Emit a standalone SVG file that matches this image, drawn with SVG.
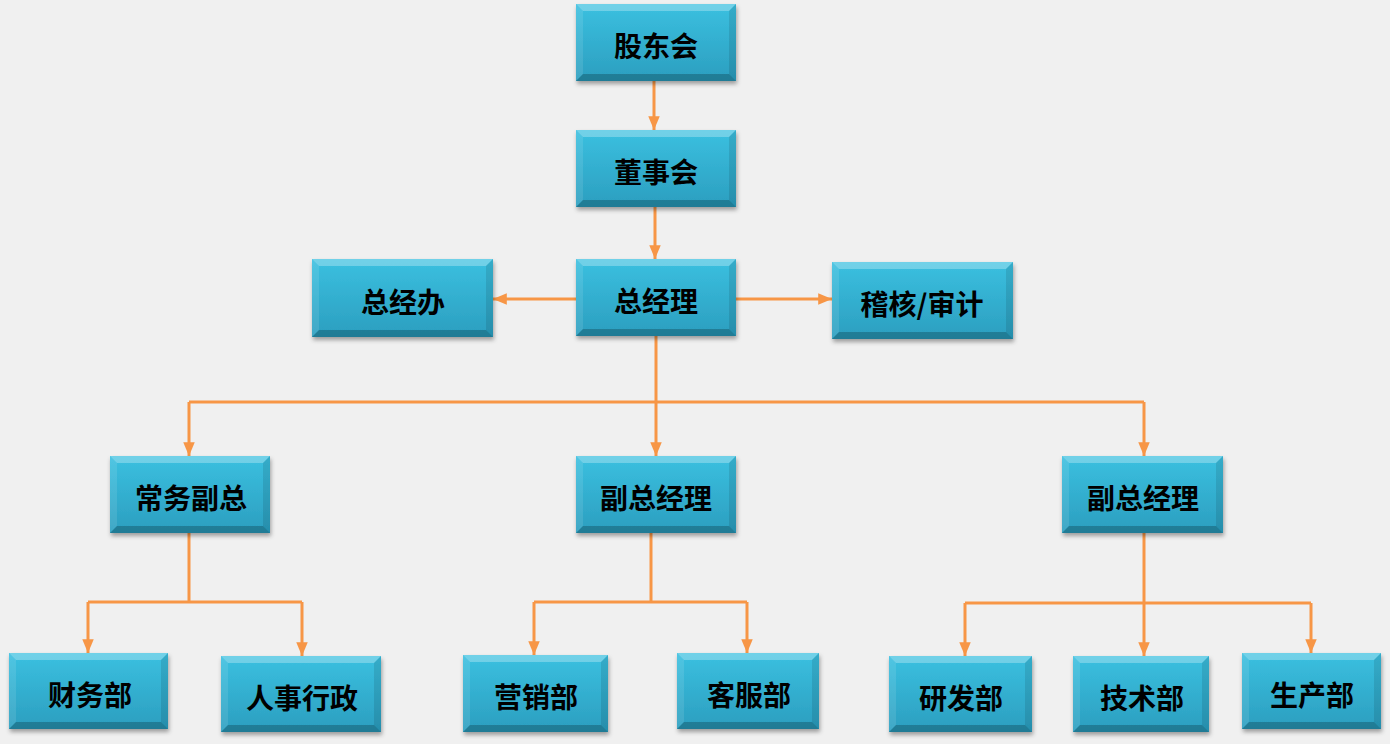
<svg xmlns="http://www.w3.org/2000/svg" width="1390" height="744" viewBox="0 0 1390 744">
<style>
.face{fill:url(#g);filter:url(#sh)}
.bt{fill:#ffffff;opacity:.28}
.bl{fill:#ffffff;opacity:.1}
.br{fill:#000000;opacity:.1}
.bb{fill:#000000;opacity:.22}
.t{font-family:"Noto Sans CJK SC","Noto Sans CJK TC",sans-serif;font-weight:700;font-size:28px;fill:#000;text-anchor:middle}
.c{fill:none;stroke:#F79646;stroke-width:3}
</style>
<defs>
<linearGradient id="g" x1="0" y1="0" x2="0" y2="1">
<stop offset="0" stop-color="#3BC0E0"/>
<stop offset="1" stop-color="#2B9EBF"/>
</linearGradient>
<filter id="sh" x="-10%" y="-10%" width="125%" height="135%">
<feDropShadow dx="1" dy="3" stdDeviation="2" flood-color="#000" flood-opacity=".35"/>
</filter>
<marker id="a" viewBox="0 0 12 10" refX="12" refY="5" markerWidth="4.6" markerHeight="4" orient="auto" markerUnits="strokeWidth">
<path d="M0,0 L12,5 L0,10 Z" fill="#F79646"/>
</marker>
</defs>
<rect width="1390" height="744" fill="#F0F0F0"/>
<g id="connectors">
<path class="c" d="M654,81 V130" marker-end="url(#a)"/>
<path class="c" d="M655,207 V259" marker-end="url(#a)"/>
<path class="c" d="M576,299 H493" marker-end="url(#a)"/>
<path class="c" d="M736,299 H832" marker-end="url(#a)"/>
<path class="c" d="M656,336 V456" marker-end="url(#a)"/>
<path class="c" d="M189,402 H1144"/>
<path class="c" d="M189,402 V456" marker-end="url(#a)"/>
<path class="c" d="M1144,402 V456" marker-end="url(#a)"/>
<path class="c" d="M189,533 V602 M88,602 H302"/>
<path class="c" d="M88,602 V653" marker-end="url(#a)"/>
<path class="c" d="M302,602 V656" marker-end="url(#a)"/>
<path class="c" d="M651,533 V602 M534,602 H747"/>
<path class="c" d="M534,602 V655" marker-end="url(#a)"/>
<path class="c" d="M747,602 V653" marker-end="url(#a)"/>
<path class="c" d="M1144,533 V603 M965,603 H1311"/>
<path class="c" d="M965,603 V656" marker-end="url(#a)"/>
<path class="c" d="M1144,603 V656" marker-end="url(#a)"/>
<path class="c" d="M1311,603 V653" marker-end="url(#a)"/>
</g>
<g id="n1"><rect class="face" x="576" y="4" width="160" height="77"/><polygon class="bt" points="576,4 736,4 729,11 583,11"/><polygon class="bl" points="576,4 583,11 583,74 576,81"/><polygon class="br" points="736,4 736,81 729,74 729,11"/><polygon class="bb" points="576,81 583,74 729,74 736,81"/><text class="t" x="656" y="57">股东会</text></g>
<g id="n2"><rect class="face" x="576" y="130" width="160" height="77"/><polygon class="bt" points="576,130 736,130 729,137 583,137"/><polygon class="bl" points="576,130 583,137 583,200 576,207"/><polygon class="br" points="736,130 736,207 729,200 729,137"/><polygon class="bb" points="576,207 583,200 729,200 736,207"/><text class="t" x="656" y="183">董事会</text></g>
<g id="n3"><rect class="face" x="576" y="259" width="160" height="77"/><polygon class="bt" points="576,259 736,259 729,266 583,266"/><polygon class="bl" points="576,259 583,266 583,329 576,336"/><polygon class="br" points="736,259 736,336 729,329 729,266"/><polygon class="bb" points="576,336 583,329 729,329 736,336"/><text class="t" x="656" y="312">总经理</text></g>
<g id="n4"><rect class="face" x="312" y="259" width="181" height="78"/><polygon class="bt" points="312,259 493,259 486,266 319,266"/><polygon class="bl" points="312,259 319,266 319,330 312,337"/><polygon class="br" points="493,259 493,337 486,330 486,266"/><polygon class="bb" points="312,337 319,330 486,330 493,337"/><text class="t" x="403" y="313">总经办</text></g>
<g id="n5"><rect class="face" x="832" y="262" width="181" height="77"/><polygon class="bt" points="832,262 1013,262 1006,269 839,269"/><polygon class="bl" points="832,262 839,269 839,332 832,339"/><polygon class="br" points="1013,262 1013,339 1006,332 1006,269"/><polygon class="bb" points="832,339 839,332 1006,332 1013,339"/><text class="t" x="922" y="315">稽核/审计</text></g>
<g id="n6"><rect class="face" x="110" y="456" width="160" height="77"/><polygon class="bt" points="110,456 270,456 263,463 117,463"/><polygon class="bl" points="110,456 117,463 117,526 110,533"/><polygon class="br" points="270,456 270,533 263,526 263,463"/><polygon class="bb" points="110,533 117,526 263,526 270,533"/><text class="t" x="191" y="509">常务副总</text></g>
<g id="n7"><rect class="face" x="576" y="456" width="160" height="77"/><polygon class="bt" points="576,456 736,456 729,463 583,463"/><polygon class="bl" points="576,456 583,463 583,526 576,533"/><polygon class="br" points="736,456 736,533 729,526 729,463"/><polygon class="bb" points="576,533 583,526 729,526 736,533"/><text class="t" x="656" y="509">副总经理</text></g>
<g id="n8"><rect class="face" x="1062" y="456" width="161" height="77"/><polygon class="bt" points="1062,456 1223,456 1216,463 1069,463"/><polygon class="bl" points="1062,456 1069,463 1069,526 1062,533"/><polygon class="br" points="1223,456 1223,533 1216,526 1216,463"/><polygon class="bb" points="1062,533 1069,526 1216,526 1223,533"/><text class="t" x="1143" y="509">副总经理</text></g>
<g id="n9"><rect class="face" x="9" y="653" width="159" height="76"/><polygon class="bt" points="9,653 168,653 161,660 16,660"/><polygon class="bl" points="9,653 16,660 16,722 9,729"/><polygon class="br" points="168,653 168,729 161,722 161,660"/><polygon class="bb" points="9,729 16,722 161,722 168,729"/><text class="t" x="90" y="706">财务部</text></g>
<g id="n10"><rect class="face" x="221" y="656" width="160" height="76"/><polygon class="bt" points="221,656 381,656 374,663 228,663"/><polygon class="bl" points="221,656 228,663 228,725 221,732"/><polygon class="br" points="381,656 381,732 374,725 374,663"/><polygon class="bb" points="221,732 228,725 374,725 381,732"/><text class="t" x="302" y="709">人事行政</text></g>
<g id="n11"><rect class="face" x="463" y="655" width="145" height="77"/><polygon class="bt" points="463,655 608,655 601,662 470,662"/><polygon class="bl" points="463,655 470,662 470,725 463,732"/><polygon class="br" points="608,655 608,732 601,725 601,662"/><polygon class="bb" points="463,732 470,725 601,725 608,732"/><text class="t" x="536" y="708">营销部</text></g>
<g id="n12"><rect class="face" x="677" y="653" width="142" height="76"/><polygon class="bt" points="677,653 819,653 812,660 684,660"/><polygon class="bl" points="677,653 684,660 684,722 677,729"/><polygon class="br" points="819,653 819,729 812,722 812,660"/><polygon class="bb" points="677,729 684,722 812,722 819,729"/><text class="t" x="749" y="706">客服部</text></g>
<g id="n13"><rect class="face" x="889" y="656" width="143" height="76"/><polygon class="bt" points="889,656 1032,656 1025,663 896,663"/><polygon class="bl" points="889,656 896,663 896,725 889,732"/><polygon class="br" points="1032,656 1032,732 1025,725 1025,663"/><polygon class="bb" points="889,732 896,725 1025,725 1032,732"/><text class="t" x="961" y="709">研发部</text></g>
<g id="n14"><rect class="face" x="1073" y="656" width="136" height="76"/><polygon class="bt" points="1073,656 1209,656 1202,663 1080,663"/><polygon class="bl" points="1073,656 1080,663 1080,725 1073,732"/><polygon class="br" points="1209,656 1209,732 1202,725 1202,663"/><polygon class="bb" points="1073,732 1080,725 1202,725 1209,732"/><text class="t" x="1142" y="709">技术部</text></g>
<g id="n15"><rect class="face" x="1242" y="653" width="139" height="76"/><polygon class="bt" points="1242,653 1381,653 1374,660 1249,660"/><polygon class="bl" points="1242,653 1249,660 1249,722 1242,729"/><polygon class="br" points="1381,653 1381,729 1374,722 1374,660"/><polygon class="bb" points="1242,729 1249,722 1374,722 1381,729"/><text class="t" x="1312" y="706">生产部</text></g>
</svg>
